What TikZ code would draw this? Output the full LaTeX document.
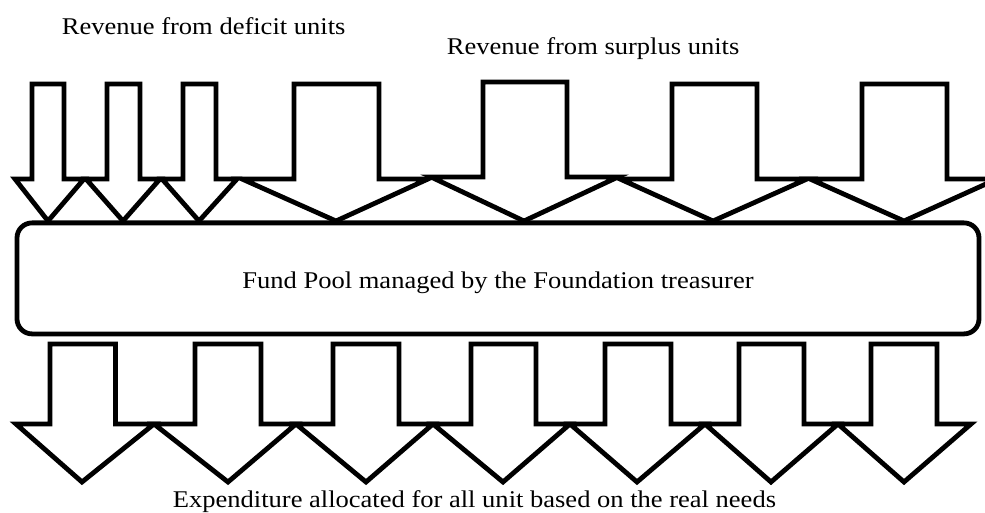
\documentclass[tikz,border=0pt]{standalone}
\usepackage{fontspec}
\setmainfont{Liberation Serif}[FakeStretch=1.105]
\newcommand\blkarrow[8]{%
  \draw[blk] (#1,#3) -- (#2,#3) -- (#2,#4) -- (#6,#4) -- (#7,#8) -- (#5,#4) -- (#1,#4) -- cycle;}
\begin{document}
\begin{tikzpicture}[x=1pt,y=-1pt,
  blk/.style={draw=black,fill=white,line width=4.8pt,line join=miter,miter limit=10},
  poolbox/.style={draw=black,fill=white,line width=4.8pt,rounded corners=15pt,inner sep=0pt,
    minimum width=962pt,minimum height=111pt},
  lbl/.style={inner sep=0pt,font=\fontsize{24}{28}\selectfont}]
\useasboundingbox (0,0) rectangle (985,513);
% incoming arrows: deficit units
\blkarrow{32}{64}{84}{179}{15}{84}{48}{221}
\blkarrow{107}{140}{84}{179}{86}{160}{123}{221}
\blkarrow{183}{216}{84}{179}{162}{237}{199}{221}
% incoming arrows: surplus units
\blkarrow{294}{379}{84}{179}{242}{428}{336}{221}
\blkarrow{483}{567}{82}{177}{431}{618}{524}{221}
\blkarrow{672}{757}{84}{179}{620}{807}{713}{221}
\blkarrow{862}{947}{84}{179}{810}{997}{904}{221}
% fund pool
\node[poolbox] (pool) at (498,278.4) {};
\node[lbl,anchor=base] (pooltext) at (498,288.3) {Fund Pool managed by the Foundation treasurer};
% outgoing arrows
\blkarrow{50}{115.5}{344}{424}{16}{154}{82}{482}
\blkarrow{195}{261}{344}{424}{154}{296}{228}{482}
\blkarrow{333}{399}{344}{424}{296}{433}{366}{482}
\blkarrow{471}{536}{344}{424}{433}{570}{503}{482}
\blkarrow{605}{671}{344}{424}{570}{705}{637}{482}
\blkarrow{739}{804}{344}{424}{705}{838}{771}{482}
\blkarrow{871}{937}{344}{424}{838}{971}{904}{482}
% labels
\node[lbl,anchor=base west] (deficit) at (61.7,34.3) {Revenue from deficit units};
\node[lbl,anchor=base west] (surplus) at (446.7,54.3) {Revenue from surplus units};
\node[lbl,anchor=base west] (expend) at (172.7,507) {Expenditure allocated for all unit based on the real needs};
\end{tikzpicture}
\end{document}
